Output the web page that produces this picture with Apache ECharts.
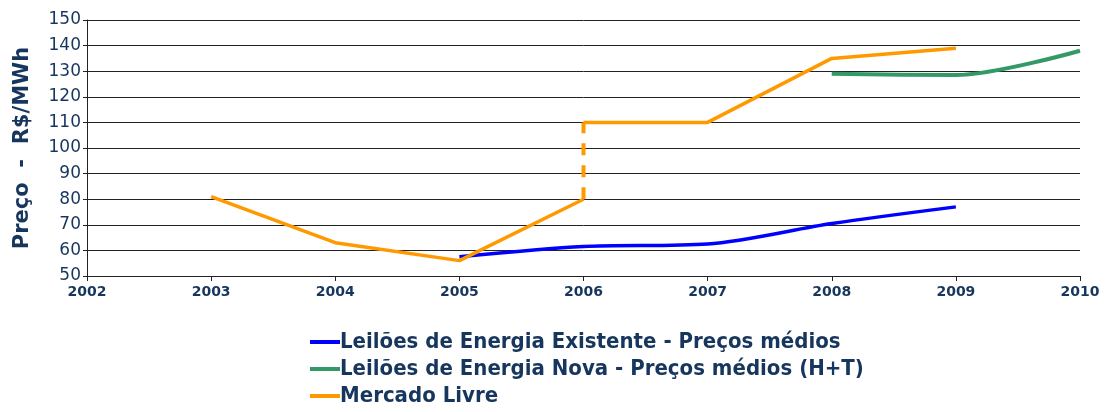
<!DOCTYPE html>
<html>
<head>
<meta charset="utf-8">
<script src="https://cdn.jsdelivr.net/npm/echarts@6/dist/echarts.min.js"></script>
<style>
  html, body { margin: 0; padding: 0; background: #fff; }
  #main { width: 1106px; height: 412px; }
</style>
</head>
<body>
<div id="main"></div>
<script>
var yTicks = [50, 60, 70, 80, 90, 100, 110, 120, 130, 140, 150]

// Leilões de Energia Existente
var existYears = [2005, 2006, 2007, 2008, 2009]
var existPrices = [57.5, 61.5, 62.5, 70.5, 77]

// Leilões de Energia Nova (H+T)
var novaYears = [2008, 2009, 2010]
var novaPrices = [129, 128.5, 138]

// Mercado Livre - antes e depois do salto de 2006
var livreYearsA = [2003, 2004, 2005, 2006]
var livrePricesA = [81, 63, 56, 80]
var livreYearsB = [2006, 2007, 2008, 2009]
var livrePricesB = [110, 110, 135, 139]
var jumpYears = [2006, 2006]
var jumpPrices = [80, 110]

var navy = '#17365d'

function pairs(xs, ys) {
  var out = []
  for (var i = 0; i < xs.length; i++) out.push([xs[i], ys[i]])
  return out
}

var chart = echarts.init(document.getElementById('main'))

chart.setOption({
  animation: false,
  grid: { left: 87, right: 26, top: 20, bottom: 136 },
  legend: {
    orient: 'vertical',
    left: 305,
    top: 326,
    itemWidth: 30,
    itemHeight: 4,
    itemGap: 5,
    icon: 'rect',
    data: ['Leilões de Energia Existente - Preços médios', 'Leilões de Energia Nova - Preços médios (H+T)', 'Mercado Livre'],
    textStyle: { color: navy, fontSize: 22, fontWeight: 'bold', fontFamily: 'DejaVu Sans Condensed', padding: [0, 0, 0, -5] }
  },
  xAxis: {
    type: 'value',
    min: 2002,
    max: 2010,
    interval: 1,
    axisLine: { lineStyle: { color: '#222', width: 1 } },
    axisTick: { show: true, length: 5, lineStyle: { color: '#222' } },
    splitLine: { show: false },
    axisLabel: {
      color: navy, fontSize: 14, fontWeight: 'bold', fontFamily: 'DejaVu Sans', margin: 9,
      formatter: function (v) { return String(v) }
    }
  },
  yAxis: {
    type: 'value',
    min: yTicks[0],
    max: yTicks[yTicks.length - 1],
    interval: 10,
    name: 'Preço  -  R$/MWh',
    nameLocation: 'middle',
    nameGap: 54,
    nameTextStyle: { color: navy, fontSize: 21, fontWeight: 'bold', fontFamily: 'DejaVu Sans' },
    axisLine: { show: true, lineStyle: { color: '#222', width: 1 } },
    axisTick: { show: true, length: 4, lineStyle: { color: '#222' } },
    splitLine: { lineStyle: { color: '#222', width: 1 } },
    axisLabel: { color: navy, fontSize: 17, fontFamily: 'DejaVu Sans', margin: 6 }
  },
  series: [
    {
      name: 'Leilões de Energia Existente - Preços médios',
      type: 'line',
      smooth: 0.3,
      symbol: 'none',
      color: '#0000ff',
      lineStyle: { width: 3.5 },
      data: pairs(existYears, existPrices)
    },
    {
      name: 'Leilões de Energia Nova - Preços médios (H+T)',
      type: 'line',
      smooth: 0.3,
      symbol: 'none',
      color: '#339966',
      lineStyle: { width: 4 },
      data: pairs(novaYears, novaPrices)
    },
    {
      name: 'Mercado Livre',
      type: 'line',
      symbol: 'none',
      color: '#ff9900',
      lineStyle: { width: 3.5 },
      data: pairs(livreYearsA, livrePricesA)
    },
    {
      name: 'Mercado Livre',
      type: 'line',
      symbol: 'none',
      color: '#ff9900',
      lineStyle: { width: 4, type: [12, 10] },
      data: pairs(jumpYears, jumpPrices)
    },
    {
      name: 'Mercado Livre',
      type: 'line',
      symbol: 'none',
      color: '#ff9900',
      lineStyle: { width: 3.5 },
      data: pairs(livreYearsB, livrePricesB)
    }
  ]
})
</script>
</body>
</html>
